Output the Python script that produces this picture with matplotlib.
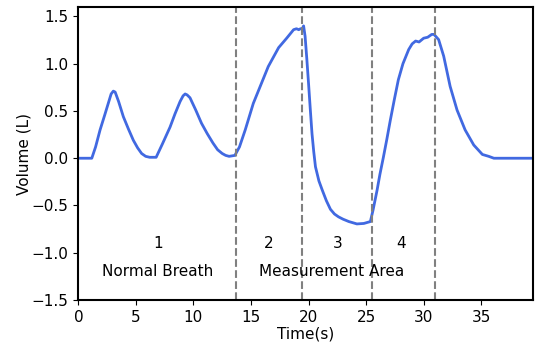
import matplotlib
matplotlib.use("Agg")
import matplotlib.pyplot as plt

time_s = [0.0, 1.17, 1.5, 1.89, 2.3, 2.6, 2.85, 3.04, 3.2, 3.5, 3.91, 4.35, 4.78, 5.15, 5.5, 5.85, 6.2, 6.5, 6.76,
          7.3, 7.97, 8.4, 8.84, 9.1, 9.28, 9.45, 9.7, 10.2, 10.7, 11.2, 11.7, 12.1, 12.5, 12.8, 13.1, 13.6,
          14.0, 14.5, 15.2, 15.8, 16.5, 17.4, 18.1, 18.7, 18.95, 19.15, 19.3, 19.45, 19.57,
          19.7, 19.85, 20.0, 20.15, 20.3, 20.45, 20.6, 20.9, 21.2, 21.55, 21.9, 22.25, 22.6, 23.0, 23.5, 24.2, 24.8, 25.37,
          25.6, 25.95, 26.2, 26.5, 26.8, 27.1, 27.45, 27.8, 28.2, 28.7, 29.0, 29.3, 29.6, 30.0, 30.35, 30.7, 30.9, 31.3,
          31.74, 32.3, 32.9, 33.6, 34.35, 35.1, 35.65, 36.1, 39.5]
volume_l = [0.0, 0.0, 0.12, 0.3, 0.46, 0.58, 0.68, 0.71, 0.70, 0.6, 0.44, 0.31, 0.19, 0.11, 0.05, 0.02, 0.01, 0.01, 0.01,
            0.15, 0.33, 0.47, 0.6, 0.66, 0.68, 0.67, 0.64, 0.51, 0.37, 0.26, 0.16, 0.09, 0.05, 0.03, 0.02, 0.03,
            0.12, 0.30, 0.58, 0.76, 0.97, 1.17, 1.27, 1.36, 1.37, 1.36, 1.37, 1.37, 1.40,
            1.29, 1.05, 0.79, 0.52, 0.26, 0.07, -0.09, -0.24, -0.34, -0.45, -0.54, -0.59, -0.62, -0.645, -0.67, -0.695, -0.69, -0.67,
            -0.55, -0.34, -0.17, 0.01, 0.2, 0.40, 0.62, 0.83, 1.0, 1.15, 1.21, 1.24, 1.23, 1.27, 1.28, 1.31, 1.31, 1.255,
            1.08, 0.76, 0.51, 0.30, 0.14, 0.04, 0.02, 0.0, 0.0]

phase_bounds = [13.7, 19.4, 25.5, 31.0]
phase_labels = ["1", "2", "3", "4"]
phase_label_x = [6.9, 16.5, 22.5, 28.0]
region_labels = ["Normal Breath", "Measurement Area"]
region_label_x = [6.9, 22.0]

plt.rcParams["font.size"] = 11

fig = plt.figure(figsize=(5.35, 3.45), dpi=100)
ax = fig.add_axes([0.1464, 0.1304, 0.8499, 0.8493])
ax.plot(time_s, volume_l, color="#4169E1", linewidth=2)
for b in phase_bounds:
    ax.axvline(b, color="grey", linestyle="--", linewidth=1.5)
for lab, x in zip(phase_labels, phase_label_x):
    ax.text(x, -0.9, lab, ha="center", va="center", fontsize=11)
for lab, x in zip(region_labels, region_label_x):
    ax.text(x, -1.2, lab, ha="center", va="center", fontsize=11)

ax.set_xlim(0, 39.5)
ax.set_ylim(-1.5, 1.6)
ax.set_xticks([0, 5, 10, 15, 20, 25, 30, 35])
ax.set_yticks([-1.5, -1.0, -0.5, 0.0, 0.5, 1.0, 1.5])
ax.set_xlabel("Time(s)", labelpad=1)
ax.set_ylabel("Volume (L)", labelpad=0)
for s in ax.spines.values():
    s.set_linewidth(1.5)
fig.savefig("out.png", dpi=100)
